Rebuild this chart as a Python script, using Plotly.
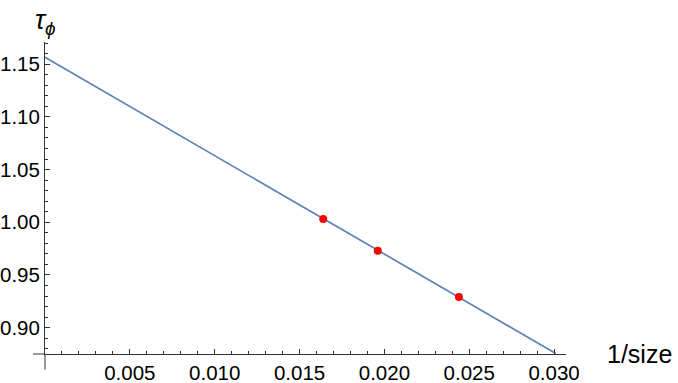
import plotly.graph_objects as go

# data
inv_size = [1 / 61, 1 / 51, 1 / 41]
tau_phi = [1.003, 0.973, 0.929]

fit_x = [0.0, 0.0301]
fit_y = [1.1565, 0.8755]

x_ticks = [0.005, 0.010, 0.015, 0.020, 0.025, 0.030]
y_ticks = [0.90, 0.95, 1.00, 1.05, 1.10, 1.15]

axis_color = '#333333'
font = 'Liberation Sans, Arial, sans-serif'

fig = go.Figure()
fig.add_trace(go.Scatter(x=fit_x, y=fit_y, mode='lines',
                         line={'color': '#5E81B5', 'width': 1.7}, showlegend=False))
fig.add_trace(go.Scatter(x=inv_size, y=tau_phi, mode='markers',
                         marker={'color': '#FF0000', 'size': 8}, showlegend=False))

common = dict(showgrid=False, zeroline=False, showline=True, linecolor=axis_color, linewidth=1,
              ticks='inside', ticklen=5, tickcolor=axis_color, automargin=False,
              tickfont={'family': font, 'size': 20.5, 'color': '#000000'})

fig.update_xaxes(range=[0, 0.0307], tickvals=x_ticks, tickformat='.3f',
                 minor={'dtick': 0.001, 'ticks': 'inside', 'ticklen': 3, 'tickcolor': axis_color},
                 **common)
fig.update_yaxes(range=[0.875, 1.171], tickvals=y_ticks, tickformat='.2f',
                 minor={'dtick': 0.01, 'ticks': 'inside', 'ticklen': 3, 'tickcolor': axis_color},
                 **common)

# little axis overhangs, Mathematica style
fig.add_shape(type='line', xref='paper', yref='paper', x0=0, x1=0, y0=-0.05, y1=0,
              line={'color': axis_color, 'width': 1})
fig.add_shape(type='line', xref='paper', yref='paper', x0=-0.023, x1=0, y0=0, y1=0,
              line={'color': axis_color, 'width': 1})

fig.add_annotation(text='<i>τ</i><sub><i>ϕ</i></sub>', xref='paper', yref='paper', x=0.0, y=1.065,
                   xanchor='center', yanchor='middle', showarrow=False,
                   font={'family': font, 'size': 27, 'color': '#000000'})
fig.add_annotation(text='1/size', xref='paper', yref='paper', x=1.075, y=0.0,
                   xanchor='left', yanchor='middle', showarrow=False,
                   font={'family': font, 'size': 25, 'color': '#000000'})

fig.update_layout(width=678, height=383, plot_bgcolor='white', paper_bgcolor='white',
                  margin={'l': 45, 'r': 112, 't': 42, 'b': 29})

# drop the browser's default 8px page margin so the figure sits at the window's corner
fig.write_html("out.html", config={'displayModeBar': False},
               post_script="document.body.style.margin = '0';")
